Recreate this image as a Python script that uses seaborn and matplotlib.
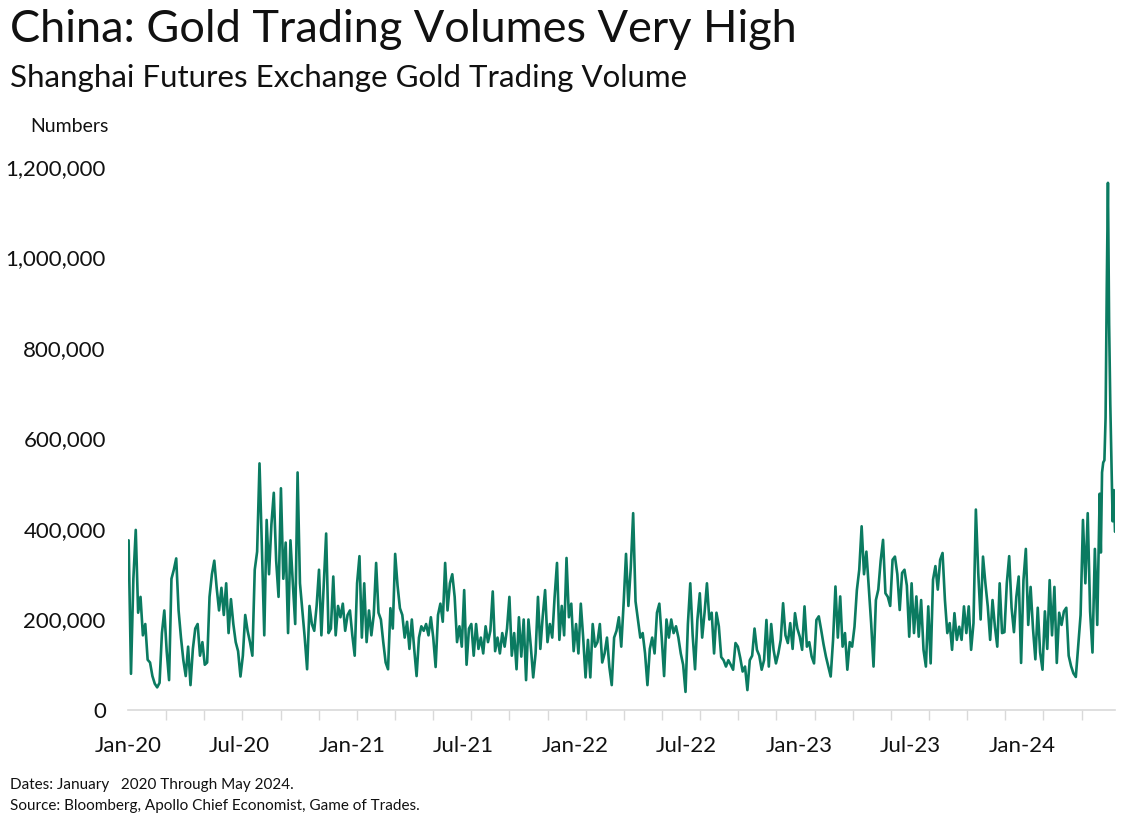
"""
China: Gold Trading Volumes Very High
Shanghai Futures Exchange gold trading volume, Jan 2020 - May 2024
"""

import numpy as np
import pandas as pd
import matplotlib
matplotlib.use("Agg")
import matplotlib.pyplot as plt
import matplotlib.ticker as mticker
import seaborn as sns

# 成交量（千手），按图上的时间顺序读取
vol_2020 = [375, 80, 290, 398, 215, 250, 165, 190,
            111, 105, 75, 58, 50, 60, 170, 220,
            130, 66, 290, 310, 335, 220, 160, 110,
            75, 140, 55, 135, 180, 190, 120, 150,
            100, 105, 250, 300, 330, 270, 220, 270,
            210, 280, 170, 245, 190, 150, 130, 74,
            120, 210, 175, 150, 120, 310, 350, 545,
            360, 165, 420, 300, 410, 480, 330, 250,
            490, 290, 370, 170, 375, 280, 190, 525,
            280, 220, 160, 90, 230, 190, 175, 230,
            310, 165, 280, 390, 170, 180, 295, 165,
            230, 205, 235, 175, 210, 220]
vol_2021 = [165, 120,
            280, 340, 160, 280, 150, 220, 165, 210,
            325, 215, 200, 150, 105, 90, 225, 180,
            345, 275, 225, 210, 160, 195, 135, 200,
            135, 75, 160, 185, 175, 190, 165, 205,
            160, 95, 210, 235, 195, 325, 220, 280,
            300, 250, 150, 185, 140, 265, 100, 180,
            190, 120, 190, 135, 160, 125, 185, 150,
            175, 262, 130, 160, 125, 170, 140, 180,
            250, 120, 170, 90, 205, 118, 200, 66,
            200, 140, 72, 125, 250, 135, 207, 265,
            150, 190, 160, 250, 325, 155, 230, 165,
            336, 205, 235, 130]
vol_2022 = [190, 125, 235, 160,
            72, 155, 72, 190, 140, 150, 190, 105,
            125, 160, 95, 55, 160, 175, 205, 140,
            236, 345, 230, 315, 435, 240, 200, 160,
            170, 125, 55, 135, 160, 125, 215, 235,
            160, 75, 200, 160, 200, 170, 185, 160,
            125, 100, 40, 190, 280, 165, 90, 200,
            258, 160, 215, 280, 200, 215, 125, 215,
            185, 117, 110, 96, 110, 100, 89, 148,
            140, 115, 85, 96, 44, 110, 120, 180,
            133, 120, 89, 110, 199, 96, 190, 133,
            103, 125, 155, 236, 165, 148, 192, 135,
            214]
vol_2023 = [180, 162, 133, 229, 140, 150, 118,
            103, 199, 207, 177, 145, 118, 96, 74,
            155, 273, 160, 251, 140, 170, 89, 150,
            140, 184, 265, 310, 406, 300, 350, 270,
            192, 96, 243, 266, 330, 376, 258, 250,
            230, 332, 339, 300, 221, 303, 310, 275,
            162, 280, 170, 251, 162, 243, 133, 96,
            229, 103, 288, 318, 266, 332, 347, 243,
            170, 192, 133, 214, 155, 184, 155, 229,
            170, 229, 133, 192, 443, 303, 200, 339,
            280, 229, 155, 243, 184, 140, 280, 170,
            172, 280, 340, 226, 172, 250, 295]
vol_2024 = [104,
            287, 356, 188, 272, 180, 112, 226, 127,
            89, 218, 135, 287, 165, 272, 104, 215,
            188, 218, 226, 120, 97, 81, 73, 142,
            210, 420, 280, 435, 218, 127, 356, 188]
# 五月下旬的尖峰，采样更密
vol_may24 = [478, 348, 525, 547, 552, 646, 930, 1165, 854, 676, 547, 417, 486, 394]

y_ticks = [0, 200000, 400000, 600000, 800000, 1000000, 1200000]
x_labels = ["Jan-20", "Jul-20", "Jan-21", "Jul-21", "Jan-22",
            "Jul-22", "Jan-23", "Jul-23", "Jan-24"]

GREEN = "#0b7b61"

# 组装数据
main_vals = vol_2020 + vol_2021 + vol_2022 + vol_2023 + vol_2024
main_dates = pd.date_range("2020-01-02", "2024-05-02", periods=len(main_vals))
tail_dates = pd.date_range("2024-05-06", "2024-05-31", periods=len(vol_may24))
df = pd.DataFrame({
    "date": main_dates.append(tail_dates),
    "volume": np.array(main_vals + vol_may24) * 1000,
})

sns.set_theme(style="white")
plt.rcParams["font.family"] = ["Lato", "DejaVu Sans"]

fig = plt.figure(figsize=(11.35, 8.17), dpi=100)
ax = fig.add_axes([128 / 1135, 1 - 710 / 817, 987 / 1135, 543 / 817])

sns.lineplot(data=df, x="date", y="volume", ax=ax, color=GREEN, linewidth=1.9)

x_start = pd.Timestamp("2020-01-01")
x_end = pd.Timestamp("2024-05-31")
ax.set_xlim(x_start, x_end)
ax.set_ylim(0, 1200000)

# y 轴
ax.set_yticks(y_ticks)
ax.yaxis.set_major_formatter(mticker.FuncFormatter(lambda v, p: f"{v:,.0f}"))
ax.tick_params(axis="y", length=0, pad=16, labelsize=16, labelcolor="#111111")

# x 轴：标签在一月/七月，刻度线约每 62 天一根
label_dates = [pd.Timestamp(f"20{s[-2:]}-{'01' if s.startswith('Jan') else '07'}-01")
               for s in x_labels]
ax.set_xticks(label_dates)
ax.set_xticklabels(x_labels)
tick_dates = [x_start + pd.Timedelta(days=62.3 * j) for j in range(26)]
ax.set_xticks(tick_dates, minor=True)
ax.tick_params(axis="x", which="major", length=0, pad=19, labelsize=16,
               labelcolor="#111111")
ax.tick_params(axis="x", which="minor", length=7, width=1, color="#d9d9d9",
               direction="out", bottom=True)

for side in ["left", "right", "top"]:
    ax.spines[side].set_visible(False)
ax.spines["bottom"].set_color("#d9d9d9")
ax.spines["bottom"].set_linewidth(1.2)
ax.set_xlabel("")
ax.set_ylabel("")
ax.grid(False)

# 标题和注释
fig.text(10 / 1135, 1 - 30 / 817, "China: Gold Trading Volumes Very High",
         fontsize=32.5, va="center", ha="left", color="#111111")
fig.text(10 / 1135, 1 - 78 / 817, "Shanghai Futures Exchange Gold Trading Volume",
         fontsize=22.5, va="center", ha="left", color="#111111")
fig.text(30 / 1135, 1 - 126 / 817, "Numbers", fontsize=14, va="center",
         ha="left", color="#111111")
fig.text(10 / 1135, 1 - 785 / 817, "Dates: January   2020 Through May 2024.",
         fontsize=11, va="center", ha="left", color="#111111")
fig.text(10 / 1135, 1 - 806 / 817,
         "Source: Bloomberg, Apollo Chief Economist, Game of Trades.",
         fontsize=11, va="center", ha="left", color="#111111")

fig.savefig("out.png", dpi=100)
